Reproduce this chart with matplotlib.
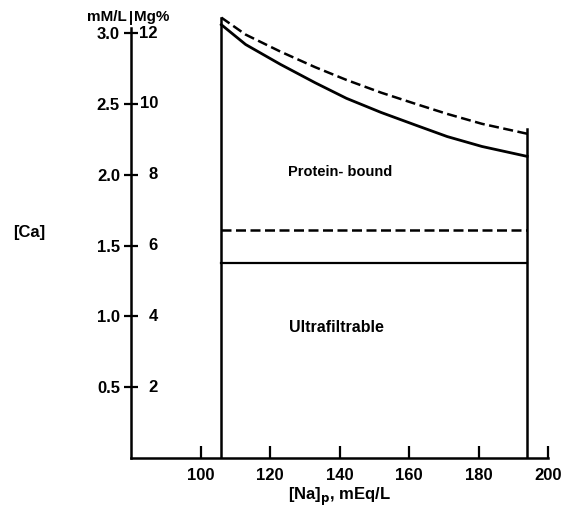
import matplotlib
matplotlib.use("Agg")
import matplotlib.pyplot as plt
from matplotlib.transforms import blended_transform_factory

# ---- data ----
na_curve = [106, 113, 123, 133, 142, 152, 162, 171, 181, 194]
total_ca_solid = [3.06, 2.92, 2.78, 2.65, 2.54, 2.44, 2.35, 2.27, 2.20, 2.13]
total_ca_dashed = [3.11, 2.99, 2.87, 2.76, 2.67, 2.58, 2.50, 2.43, 2.36, 2.29]
na_range = [106, 194]
ultra_solid = [1.38, 1.38]
ultra_dashed = [1.61, 1.61]
left_edge_top = 3.11
right_edge_top = 2.32
x_ticks = [100, 120, 140, 160, 180, 200]
y_ticks = [0.5, 1.0, 1.5, 2.0, 2.5, 3.0]
y_labels_mm = ["0.5", "1.0", "1.5", "2.0", "2.5", "3.0"]
y_labels_mg = ["2", "4", "6", "8", "10", "12"]

plt.rcParams['font.family'] = ['Liberation Sans', 'DejaVu Sans']
plt.rcParams['font.weight'] = 'bold'

fig = plt.figure(figsize=(5.75, 5.08), dpi=100)
ax = fig.add_axes([131/575, 50/508, 417/575, 3.2*141.6/508])
ax.set_xlim(80, 200)
ax.set_ylim(0, 3.2)

k = 'black'
ax.plot(na_curve, total_ca_solid, color=k, lw=2.0, solid_joinstyle='round')
ax.plot(na_curve, total_ca_dashed, color=k, lw=1.8, linestyle=(0, (4, 1.8)))
ax.plot(na_range, ultra_solid, color=k, lw=1.6)
ax.plot(na_range, ultra_dashed, color=k, lw=1.8, linestyle=(0, (4, 1.8)))
ax.plot([na_range[0], na_range[0]], [0, left_edge_top], color=k, lw=1.8)
ax.plot([na_range[1], na_range[1]], [0, right_edge_top], color=k, lw=1.8)

ax.text(140.2, 2.02, "Protein- bound", ha='center', va='center', fontsize=10.5, fontweight='bold')
ax.text(139, 0.92, "Ultrafiltrable", ha='center', va='center', fontsize=11.5, fontweight='bold')

for s in ['top', 'right']:
    ax.spines[s].set_visible(False)
ax.spines['left'].set_linewidth(1.8)
ax.spines['bottom'].set_linewidth(1.8)
ax.spines['left'].set_bounds(0, 3.04)

ax.set_xticks(x_ticks)
ax.set_xticklabels([str(v) for v in x_ticks], fontsize=12, fontweight='bold')
ax.tick_params(axis='x', direction='in', length=8.5, width=1.6, pad=7)

ax.set_yticks(y_ticks)
ax.set_yticklabels(y_labels_mm, fontsize=12, fontweight='bold')
ax.tick_params(axis='y', direction='inout', length=10, width=1.6, pad=3)

tr = blended_transform_factory(ax.transAxes, ax.transData)
for yv, lab in zip(y_ticks, y_labels_mg):
    ax.text(27/417, yv, lab, transform=tr, ha='right', va='center', fontsize=12, fontweight='bold')

# header
ax.text(-4/417, 3.115, "mM/L", transform=tr, ha='right', va='center', fontsize=11, fontweight='bold')
ax.text(3/417, 3.115, "Mg%", transform=tr, ha='left', va='center', fontsize=11, fontweight='bold')
ax.plot([0, 0], [3.065, 3.15], transform=tr, color=k, lw=1.4, clip_on=False)

ax.set_xlabel(r"[Na]$_{\mathbf{p}}$, mEq/L", fontsize=12, fontweight='bold', labelpad=2)
fig.text(29/575, 1 - 232/508, "[Ca]", ha='center', va='center', fontsize=12, fontweight='bold')

fig.savefig("out.png", dpi=100)
